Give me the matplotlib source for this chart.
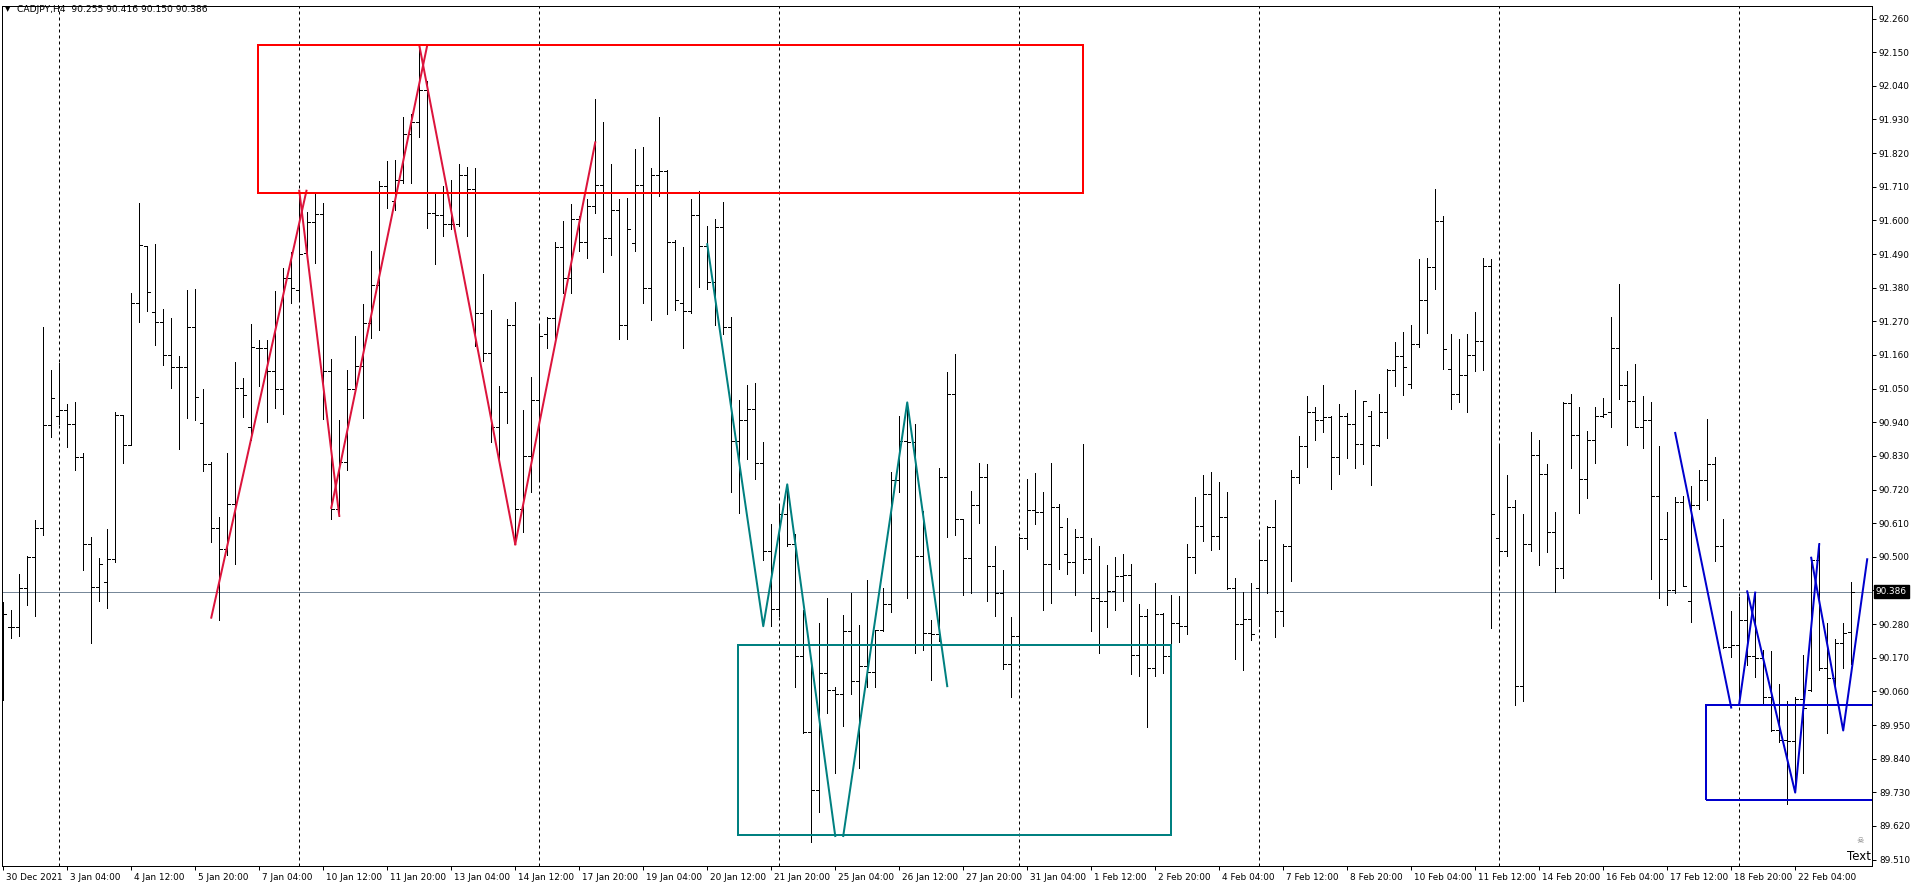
"""CADJPY H4 bar chart with hand-drawn zigzag trendlines and zones (MT4 style)."""

import numpy as np
import matplotlib
matplotlib.use("Agg")  # save to file, no display needed
import matplotlib.pyplot as plt
import matplotlib.transforms as mtransforms
from matplotlib.patches import Rectangle

# ---- OHLC data, one entry per H4 bar ----
bar_open = [
    90.200, 90.271, 90.271, 90.397, 90.499, 90.593, 90.931, 90.961, 90.980, 90.933,
    90.825, 90.543, 90.401, 90.418, 90.492, 90.963, 90.867, 91.329, 91.515, 91.301,
    91.268, 91.159, 91.122, 91.119, 91.250, 90.939, 90.804, 90.593, 90.525, 90.674,
    91.051, 90.923, 91.184, 91.184, 91.108, 91.049, 91.410, 91.373, 91.490, 91.595,
    91.621, 91.108, 90.657, 90.809, 91.049, 91.124, 91.266, 91.389, 91.711, 91.665,
    91.733, 91.884, 91.923, 92.026, 91.623, 91.618, 91.588, 91.588, 91.749, 91.702,
    91.297, 91.166, 90.926, 91.038, 91.257, 90.655, 90.828, 91.014, 91.227, 91.280,
    91.513, 91.411, 91.606, 91.529, 91.646, 91.716, 91.543, 91.635, 91.257, 91.527,
    91.716, 91.380, 91.749, 91.760, 91.530, 91.329, 91.303, 91.618, 91.515, 91.399,
    91.578, 91.250, 90.879, 90.946, 90.984, 90.807, 90.518, 90.329, 90.641, 90.543,
    90.177, 89.926, 89.739, 90.121, 90.063, 90.053, 90.256, 90.093, 90.144, 90.123,
    90.261, 90.347, 90.751, 90.879, 90.874, 90.502, 90.252, 90.249, 90.762, 91.031,
    90.622, 90.497, 90.671, 90.762, 90.469, 90.383, 90.151, 90.240, 90.562, 90.653,
    90.646, 90.476, 90.664, 90.510, 90.483, 90.565, 90.494, 90.364, 90.354, 90.387,
    90.436, 90.439, 90.179, 90.308, 90.138, 90.313, 90.175, 90.284, 90.275, 90.499,
    90.602, 90.706, 90.567, 90.629, 90.399, 90.280, 90.296, 90.397, 90.489, 90.597,
    90.322, 90.536, 90.762, 90.861, 90.974, 90.946, 90.958, 90.825, 90.961, 90.933,
    90.870, 90.960, 90.867, 90.975, 91.110, 91.157, 91.066, 91.196, 91.339, 91.446,
    91.597, 91.114, 91.031, 91.096, 91.159, 91.206, 91.450, 90.562, 90.520, 90.662,
    90.079, 90.543, 90.833, 90.770, 90.580, 90.464, 91.002, 90.897, 90.755, 90.883,
    90.961, 90.975, 91.182, 91.063, 91.010, 90.926, 90.947, 90.699, 90.559, 90.390,
    90.678, 90.354, 90.671, 90.751, 90.804, 90.536, 90.205, 90.212, 90.292, 90.177,
    90.170, 90.040, 89.935, 89.902, 89.898, 90.035, 90.065, 90.490, 90.135, 90.105,
    90.219, 90.255,
]
bar_high = [
    90.352, 90.327, 90.443, 90.502, 90.620, 91.251, 91.111, 91.133, 90.998, 91.005,
    90.839, 90.565, 90.497, 90.590, 90.975, 90.963, 91.364, 91.658, 91.515, 91.522,
    91.311, 91.282, 91.157, 91.371, 91.375, 91.049, 90.811, 90.629, 90.840, 91.138,
    91.086, 91.261, 91.210, 91.210, 91.369, 91.445, 91.497, 91.697, 91.627, 91.692,
    91.656, 91.147, 90.947, 91.110, 91.222, 91.327, 91.501, 91.730, 91.795, 91.798,
    91.938, 91.947, 92.173, 92.057, 91.693, 91.714, 91.732, 91.784, 91.776, 91.772,
    91.425, 91.308, 91.058, 91.276, 91.333, 90.979, 91.087, 91.254, 91.285, 91.529,
    91.597, 91.655, 91.613, 91.669, 91.996, 91.921, 91.784, 91.670, 91.674, 91.833,
    91.840, 91.770, 91.937, 91.765, 91.536, 91.513, 91.669, 91.697, 91.583, 91.604,
    91.660, 91.283, 91.014, 91.063, 91.068, 90.874, 90.608, 90.669, 90.737, 90.573,
    90.326, 90.166, 90.285, 90.366, 90.075, 90.310, 90.383, 90.277, 90.425, 90.261,
    90.397, 90.776, 90.960, 91.007, 90.935, 90.651, 90.294, 90.790, 91.105, 91.163,
    90.625, 90.714, 90.807, 90.804, 90.536, 90.457, 90.303, 90.565, 90.755, 90.774,
    90.711, 90.807, 90.672, 90.627, 90.592, 90.870, 90.562, 90.536, 90.473, 90.499,
    90.510, 90.476, 90.347, 90.329, 90.415, 90.317, 90.375, 90.373, 90.543, 90.697,
    90.767, 90.777, 90.744, 90.713, 90.431, 90.385, 90.415, 90.552, 90.602, 90.686,
    90.541, 90.784, 90.895, 91.026, 90.991, 91.063, 90.960, 91.000, 90.970, 91.045,
    91.010, 90.977, 91.033, 91.115, 91.201, 91.234, 91.257, 91.474, 91.478, 91.704,
    91.614, 91.227, 91.212, 91.229, 91.301, 91.478, 91.474, 90.861, 90.767, 90.686,
    90.639, 90.909, 90.881, 90.804, 90.646, 91.005, 91.033, 90.989, 90.910, 90.989,
    91.019, 91.283, 91.392, 91.107, 91.131, 91.026, 91.007, 90.861, 90.646, 90.695,
    90.700, 90.732, 90.784, 90.949, 90.826, 90.622, 90.322, 90.369, 90.387, 90.383,
    90.194, 90.191, 90.084, 90.028, 90.042, 90.179, 90.497, 90.546, 90.285, 90.231,
    90.282, 90.416,
]
bar_low = [
    90.033, 90.233, 90.240, 90.341, 90.305, 90.572, 90.891, 90.933, 90.858, 90.783,
    90.457, 90.219, 90.355, 90.331, 90.484, 90.807, 90.865, 91.269, 91.304, 91.191,
    91.126, 91.051, 90.851, 90.953, 90.946, 90.779, 90.550, 90.294, 90.506, 90.478,
    90.958, 90.883, 91.058, 90.942, 90.986, 90.968, 91.331, 91.339, 91.495, 91.460,
    90.951, 90.623, 90.634, 90.783, 91.038, 90.953, 91.217, 91.243, 91.639, 91.634,
    91.723, 91.723, 91.874, 91.574, 91.459, 91.548, 91.571, 91.583, 91.550, 91.189,
    91.140, 90.877, 90.816, 90.937, 90.541, 90.580, 90.713, 90.751, 91.184, 91.217,
    91.362, 91.362, 91.499, 91.476, 91.625, 91.432, 91.488, 91.212, 91.212, 91.501,
    91.329, 91.275, 91.679, 91.294, 91.306, 91.182, 91.296, 91.382, 91.375, 91.259,
    91.227, 90.711, 90.643, 90.821, 90.756, 90.489, 90.275, 90.308, 90.534, 90.075,
    89.923, 89.566, 89.664, 89.988, 89.792, 89.946, 90.051, 89.809, 90.075, 90.075,
    90.259, 90.319, 90.711, 90.366, 90.184, 90.196, 90.098, 90.226, 90.565, 90.571,
    90.375, 90.383, 90.609, 90.354, 90.305, 90.133, 90.040, 90.208, 90.527, 90.608,
    90.327, 90.350, 90.461, 90.443, 90.375, 90.446, 90.256, 90.187, 90.271, 90.326,
    90.355, 90.116, 90.109, 89.942, 90.110, 90.119, 90.121, 90.222, 90.247, 90.448,
    90.553, 90.522, 90.524, 90.396, 90.165, 90.131, 90.228, 90.275, 90.383, 90.238,
    90.273, 90.420, 90.742, 90.793, 90.881, 90.907, 90.723, 90.770, 90.823, 90.791,
    90.804, 90.734, 90.863, 90.888, 91.058, 91.028, 91.051, 91.187, 91.233, 91.375,
    91.115, 90.982, 91.007, 90.975, 91.108, 91.112, 90.266, 90.473, 90.504, 90.016,
    90.030, 90.520, 90.474, 90.515, 90.385, 90.431, 90.790, 90.643, 90.693, 90.807,
    90.956, 90.923, 91.017, 90.867, 90.925, 90.856, 90.426, 90.366, 90.343, 90.383,
    90.403, 90.287, 90.657, 90.686, 90.485, 90.203, 90.173, 90.016, 90.145, 90.107,
    90.019, 89.930, 89.893, 89.692, 89.736, 89.792, 90.061, 90.130, 89.925, 90.072,
    90.138, 90.150,
]
bar_close = [
    90.313, 90.271, 90.397, 90.499, 90.593, 90.931, 91.020, 90.980, 90.933, 90.825,
    90.543, 90.401, 90.476, 90.492, 90.963, 90.867, 91.329, 91.518, 91.367, 91.268,
    91.159, 91.122, 91.119, 91.250, 91.021, 90.804, 90.593, 90.525, 90.674, 91.051,
    91.028, 91.187, 91.184, 91.108, 91.049, 91.410, 91.378, 91.490, 91.595, 91.621,
    91.108, 90.657, 90.809, 91.049, 91.124, 91.266, 91.389, 91.711, 91.693, 91.733,
    91.884, 91.923, 92.026, 91.623, 91.618, 91.588, 91.588, 91.749, 91.702, 91.297,
    91.166, 90.926, 91.038, 91.257, 90.655, 90.828, 91.014, 91.222, 91.280, 91.513,
    91.411, 91.606, 91.529, 91.646, 91.716, 91.543, 91.635, 91.257, 91.571, 91.716,
    91.380, 91.749, 91.760, 91.530, 91.341, 91.303, 91.618, 91.515, 91.399, 91.578,
    91.250, 90.879, 90.946, 90.984, 90.807, 90.518, 90.329, 90.641, 90.543, 90.177,
    89.926, 89.739, 90.121, 90.063, 90.053, 90.256, 90.093, 90.144, 90.123, 90.261,
    90.347, 90.751, 90.879, 90.874, 90.502, 90.252, 90.249, 90.762, 91.031, 90.622,
    90.497, 90.671, 90.762, 90.469, 90.383, 90.151, 90.240, 90.562, 90.653, 90.646,
    90.476, 90.664, 90.597, 90.483, 90.565, 90.494, 90.364, 90.354, 90.387, 90.436,
    90.439, 90.179, 90.308, 90.138, 90.313, 90.175, 90.284, 90.275, 90.499, 90.602,
    90.706, 90.567, 90.629, 90.399, 90.280, 90.296, 90.249, 90.489, 90.597, 90.322,
    90.536, 90.762, 90.861, 90.974, 90.946, 90.958, 90.825, 90.961, 90.933, 90.870,
    91.009, 90.867, 90.975, 91.110, 91.157, 91.122, 91.196, 91.339, 91.446, 91.597,
    91.178, 91.031, 91.096, 91.159, 91.206, 91.450, 90.639, 90.520, 90.662, 90.079,
    90.543, 90.833, 90.770, 90.580, 90.464, 91.002, 90.897, 90.755, 90.883, 90.961,
    90.968, 91.182, 91.063, 91.010, 90.926, 90.947, 90.699, 90.559, 90.390, 90.678,
    90.406, 90.671, 90.751, 90.804, 90.536, 90.205, 90.212, 90.292, 90.177, 90.170,
    90.040, 89.935, 89.902, 89.898, 90.035, 90.007, 90.490, 90.135, 90.105, 90.219,
    90.252, 90.386,
]

# time axis labels, one every 8 bars
date_labels = [
    "30 Dec 2021", "3 Jan 04:00", "4 Jan 12:00", "5 Jan 20:00", "7 Jan 04:00",
    "10 Jan 12:00", "11 Jan 20:00", "13 Jan 04:00", "14 Jan 12:00", "17 Jan 20:00",
    "19 Jan 04:00", "20 Jan 12:00", "21 Jan 20:00", "25 Jan 04:00", "26 Jan 12:00",
    "27 Jan 20:00", "31 Jan 04:00", "1 Feb 12:00", "2 Feb 20:00", "4 Feb 04:00",
    "7 Feb 12:00", "8 Feb 20:00", "10 Feb 04:00", "11 Feb 12:00", "14 Feb 20:00",
    "16 Feb 04:00", "17 Feb 12:00", "18 Feb 20:00", "22 Feb 04:00",
]
label_every = 8
week_starts = [7, 37, 67, 97, 127, 157, 187, 217]   # bar index of the dashed separators
price_ticks = [89.510, 89.620, 89.730, 89.840, 89.950, 90.060, 90.170, 90.280,
               90.390, 90.500, 90.610, 90.720, 90.830, 90.940, 91.050, 91.160,
               91.270, 91.380, 91.490, 91.600, 91.710, 91.820, 91.930, 92.040,
               92.150, 92.260]
last_price = 90.386

# hand-drawn objects: (bar index, price)
red_lines = [
    [(26.0, 90.301), (37.9, 91.697)],
    [(37.0, 91.697), (42.0, 90.634)],
    [(41.0, 90.660), (53.0, 92.173)],
    [(52.0, 92.173), (64.0, 90.541)],
    [(64.0, 90.541), (74.0, 91.855)],
]
teal_lines = [
    [(88.0, 91.522), (95.0, 90.273), (98.0, 90.737), (104.0, 89.587)],
    [(105.0, 89.587), (113.0, 91.005), (118.0, 90.077)],
]
blue_lines = [
    [(209.0, 90.905), (216.0, 90.007)],
    [(217.0, 90.019), (219.0, 90.383)],
    [(218.0, 90.387), (224.0, 89.729), (227.0, 90.541)],
    [(226.0, 90.497), (230.0, 89.932), (233.0, 90.492)],
]
# zones: (left bar, right bar, low price, high price)
red_zone = (31.9, 135.0, 91.688, 92.173)
teal_zone = (91.9, 146.0, 89.590, 90.212)
blue_zone = (212.9, 240.0, 89.704, 90.016)

W, H = 1912, 885
PX = 72 / 100  # one pixel in points at dpi 100

fig = plt.figure(figsize=(W / 100, H / 100), dpi=100, facecolor="white")
ax = fig.add_axes([2 / W, 19 / H, 1870 / W, 860 / H])
ax.set_xlim(-0.16, 233.6)
ax.set_ylim(89.489, 92.301)

# ---- bars ----
x = np.arange(len(bar_close))
o = np.clip(bar_open, bar_low, bar_high)
c = np.clip(bar_close, bar_low, bar_high)
ax.vlines(x, bar_low, bar_high, colors="black", lw=1.0 * PX, antialiased=False, zorder=3)
ax.hlines(o, x - 0.4, x, colors="black", lw=1.0 * PX, antialiased=False, zorder=3)
ax.hlines(c, x, x + 0.4, colors="black", lw=1.0 * PX, antialiased=False, zorder=3)

# grid separators and current price line
for b in week_starts:
    ax.axvline(b, color="black", lw=1.0 * PX, ls=(0, (3, 3)), zorder=1)
ax.axhline(last_price, color="#778899", lw=1.0 * PX, zorder=2)

# ---- trendlines and zones ----
for seg in red_lines:
    xs, ys = zip(*seg)
    ax.plot(xs, ys, color="#DC143C", lw=2 * PX, zorder=4)
for seg in teal_lines:
    xs, ys = zip(*seg)
    ax.plot(xs, ys, color="#008080", lw=2 * PX, zorder=4)
for seg in blue_lines:
    xs, ys = zip(*seg)
    ax.plot(xs, ys, color="#0000CD", lw=2 * PX, zorder=4)

for (x0, x1, y0, y1), col in [(red_zone, "#FF0000"), (teal_zone, "#008080"),
                              (blue_zone, "#0000CD")]:
    ax.add_patch(Rectangle((x0, y0), x1 - x0, y1 - y0, fill=False,
                           edgecolor=col, lw=2 * PX, zorder=4))

# ---- axes styling ----
for sp in ax.spines.values():
    sp.set_color("black")
    sp.set_linewidth(1.0 * PX)

ax.yaxis.tick_right()
ax.set_yticks(price_ticks)
ax.set_yticklabels([f"{v:.3f}" for v in price_ticks])
ax.tick_params(axis="y", direction="out", length=3, width=PX, pad=2,
               labelsize=6.4, labelcolor="black")

ax.set_xticks(range(0, len(date_labels) * label_every, label_every))
ax.set_xticklabels(date_labels)
ax.tick_params(axis="x", direction="out", length=3, width=PX, pad=2,
               labelsize=6.4, labelcolor="black")
shift = mtransforms.ScaledTranslation(3 / 100, 0, fig.dpi_scale_trans)
for lab in ax.get_xticklabels():
    lab.set_ha("left")
    lab.set_transform(lab.get_transform() + shift)

# current price tag on the axis
tag_tr = mtransforms.blended_transform_factory(ax.transAxes, ax.transData)
ax.text(1.0, last_price, f"{last_price:.3f}", transform=tag_tr + mtransforms.ScaledTranslation(
        4 / 100, 0, fig.dpi_scale_trans), ha="left", va="center", fontsize=6.4,
        color="white", bbox=dict(boxstyle="square,pad=0.25", fc="black", ec="black"),
        clip_on=False, zorder=6)

# header and the "Text" object
fig.text(5 / W, 1 - 9 / H, "\u25bc", fontsize=5, va="center", ha="left", color="black")
fig.text(17 / W, 1 - 9 / H, "CADJPY,H4  90.255 90.416 90.150 90.386", fontsize=6.6,
         va="center", ha="left", color="black")
ax.text(0.9995, 0.004, "Text", transform=ax.transAxes, ha="right", va="bottom",
        fontsize=8.5, color="black", zorder=6)
ax.text(0.9935, 0.024, "\u2620", transform=ax.transAxes, ha="center", va="bottom",
        fontsize=6, color="#777777", zorder=6)

fig.savefig("out.png", dpi=100, facecolor="white")
